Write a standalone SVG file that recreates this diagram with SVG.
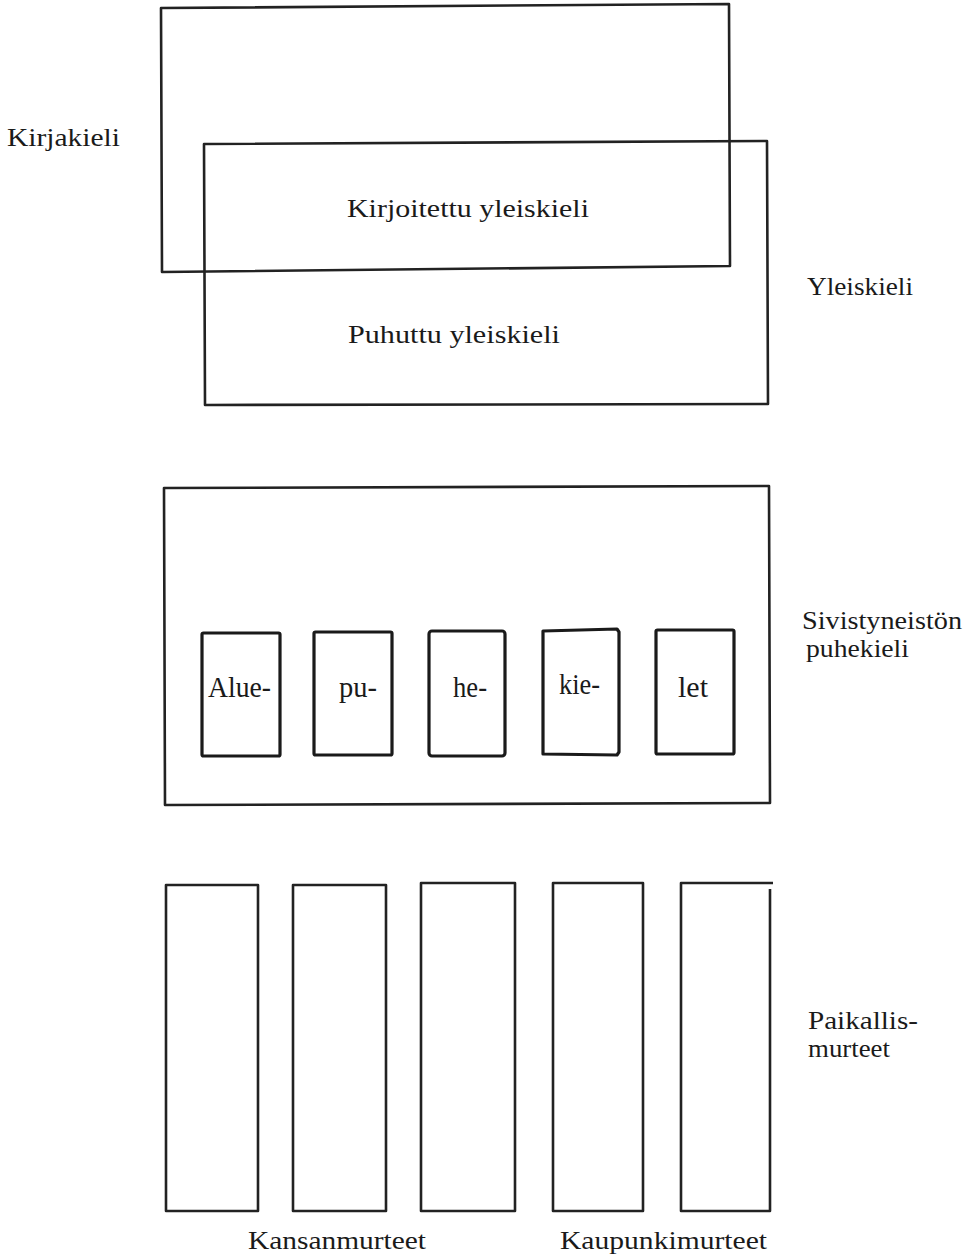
<svg xmlns="http://www.w3.org/2000/svg" width="979" height="1258" viewBox="0 0 979 1258">
<style>
.box{fill:none;stroke:#222;stroke-width:2.6;stroke-linejoin:round}
.sbox{fill:none;stroke:#1a1a1a;stroke-width:3.2;stroke-linejoin:round}
.t{font-family:"Liberation Serif","Times New Roman",serif;font-size:26px;fill:#1a1a1a}
.tb{font-family:"Liberation Serif","Times New Roman",serif;font-size:29px;fill:#1a1a1a}
</style>
<rect width="979" height="1258" fill="#ffffff"/>
<g id="connectors"/>
<g id="kirjakieli">
<path class="box" d="M161,8 L729,4 L730,266 L162,272 Z"/>
<text class="t" x="7" y="146" textLength="113" lengthAdjust="spacingAndGlyphs">Kirjakieli</text>
</g>
<g id="yleiskieli">
<path class="box" d="M204,144 L767,141 L768,404 L205,405 Z"/>
<text class="t" x="807" y="295" textLength="106" lengthAdjust="spacingAndGlyphs">Yleiskieli</text>
</g>
<g id="kirjoitettu">
<text class="t" x="347" y="217" textLength="242" lengthAdjust="spacingAndGlyphs">Kirjoitettu yleiskieli</text>
</g>
<g id="puhuttu">
<text class="t" x="348" y="343" textLength="212" lengthAdjust="spacingAndGlyphs">Puhuttu yleiskieli</text>
</g>
<g id="sivistyneiston">
<path class="box" d="M164,488 L769,486 L770,803 L165,805 Z"/>
<text class="t" x="802" y="629" textLength="160" lengthAdjust="spacingAndGlyphs">Sivistyneistön</text>
<text class="t" x="806" y="657" textLength="103" lengthAdjust="spacingAndGlyphs">puhekieli</text>
</g>
<g id="alue">
<rect class="sbox" x="202" y="633" width="78" height="123" rx="1.5"/>
<text class="tb" x="208" y="697" textLength="63" lengthAdjust="spacingAndGlyphs">Alue-</text>
</g>
<g id="pu">
<rect class="sbox" x="314" y="632" width="78" height="123" rx="1.5"/>
<text class="tb" x="339" y="697" textLength="38" lengthAdjust="spacingAndGlyphs">pu-</text>
</g>
<g id="he">
<rect class="sbox" x="429" y="631" width="76" height="125" rx="3"/>
<text class="tb" x="453" y="697" textLength="34" lengthAdjust="spacingAndGlyphs">he-</text>
</g>
<g id="kie">
<path class="sbox" d="M543,631 L617,629 L619,632 L619,752 L617,755 L543,754 Z"/>
<text class="tb" x="559" y="694" textLength="41" lengthAdjust="spacingAndGlyphs">kie-</text>
</g>
<g id="let">
<rect class="sbox" x="656" y="630" width="78" height="124" rx="1.5"/>
<text class="tb" x="678" y="697" textLength="30" lengthAdjust="spacingAndGlyphs">let</text>
</g>
<g id="murre1">
<rect class="box" x="166" y="885" width="92" height="326"/>
</g>
<g id="murre2">
<rect class="box" x="293" y="885" width="93" height="326"/>
</g>
<g id="murre3">
<rect class="box" x="421" y="883" width="94" height="328"/>
</g>
<g id="murre4">
<rect class="box" x="553" y="883" width="90" height="328"/>
</g>
<g id="murre5">
<path class="box" d="M770,889 L770,1211 L681,1211 L681,883 L773,883"/>
</g>
<g id="paikallismurteet">
<text class="t" x="808" y="1029" textLength="110" lengthAdjust="spacingAndGlyphs">Paikallis-</text>
<text class="t" x="808" y="1057" textLength="82" lengthAdjust="spacingAndGlyphs">murteet</text>
</g>
<g id="kansanmurteet">
<text class="t" x="248" y="1249" textLength="178" lengthAdjust="spacingAndGlyphs">Kansanmurteet</text>
</g>
<g id="kaupunkimurteet">
<text class="t" x="560" y="1249" textLength="207" lengthAdjust="spacingAndGlyphs">Kaupunkimurteet</text>
</g>
</svg>
